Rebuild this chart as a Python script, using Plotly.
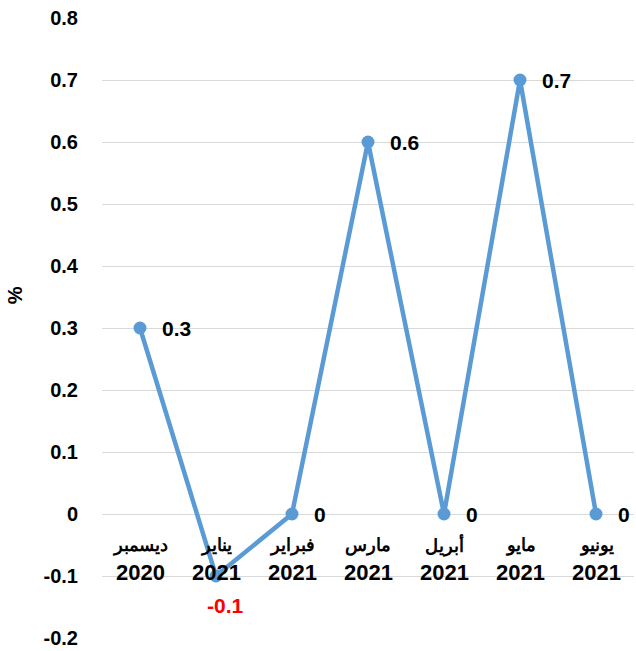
import plotly.graph_objects as go

months = ["ديسمبر", "يناير", "فبراير", "مارس", "أبريل", "مايو", "يونيو"]
years = ["2020", "2021", "2021", "2021", "2021", "2021", "2021"]
values = [0.3, -0.1, 0, 0.6, 0, 0.7, 0]
value_labels = ["0.3", "-0.1", "0", "0.6", "0", "0.7", "0"]
y_ticks = [-0.2, -0.1, 0, 0.1, 0.2, 0.3, 0.4, 0.5, 0.6, 0.7, 0.8]
y_ticktext = ["-0.2", "-0.1", "0", "0.1", "0.2", "0.3", "0.4", "0.5", "0.6", "0.7", "0.8"]

FONT = "Liberation Sans, Arial, sans-serif"
xs = list(range(len(months)))

fig = go.Figure()
fig.add_trace(go.Scatter(
    x=xs, y=values, mode="lines+markers",
    line=dict(color="#5B9BD5", width=4.5),
    marker=dict(color="#5B9BD5", size=13),
    hoverinfo="skip", showlegend=False,
))

annotations = []
for i, (v, t) in enumerate(zip(values, value_labels)):
    if v < 0:
        annotations.append(dict(x=i, y=v, xref="x", yref="y", text="<b>%s</b>" % t,
                                showarrow=False, xanchor="center", yanchor="middle",
                                xshift=9, yshift=-29,
                                font=dict(family=FONT, size=21, color="#FF0000", weight="bold")))
    else:
        annotations.append(dict(x=i, y=v, xref="x", yref="y", text="<b>%s</b>" % t,
                                showarrow=False, xanchor="left", yanchor="middle",
                                xshift=20, yshift=0,
                                font=dict(family=FONT, size=21, color="#000000", weight="bold")))

for i, (m, yr) in enumerate(zip(months, years)):
    annotations.append(dict(x=i, y=0, xref="x", yref="y", text="<b>%s</b>" % m,
                            showarrow=False, xanchor="center", yanchor="middle",
                            yshift=-31,
                            font=dict(family=FONT, size=18, color="#000000", weight="bold")))
    annotations.append(dict(x=i, y=0, xref="x", yref="y", text="<b>%s</b>" % yr,
                            showarrow=False, xanchor="center", yanchor="middle",
                            yshift=-58,
                            font=dict(family=FONT, size=22, color="#000000", weight="bold")))

annotations.append(dict(x=0, y=0.353, xref="paper", yref="y", text="<b>%</b>",
                        showarrow=False, textangle=-90, xanchor="center", yanchor="middle",
                        xshift=-87,
                        font=dict(family=FONT, size=20, color="#000000", weight="bold")))

fig.update_layout(
    width=636, height=651,
    margin=dict(l=102, r=2, t=18, b=13),
    paper_bgcolor="white", plot_bgcolor="white",
    annotations=annotations,
    xaxis=dict(range=[-0.5, 6.5], showticklabels=False, showgrid=False,
               zeroline=False, showline=False, fixedrange=True),
    yaxis=dict(range=[-0.2, 0.8], tickvals=y_ticks, ticktext=y_ticktext,
               showgrid=True, gridcolor="#D9D9D9", gridwidth=1,
               zeroline=True, zerolinecolor="#D9D9D9", zerolinewidth=1,
               showline=False, ticks="", ticklabelstandoff=23,
               tickfont=dict(family=FONT, size=20, color="#000000", weight="bold"),
               fixedrange=True),
)

fig.write_html("out.html", config={"displayModeBar": False},
               post_script="document.body.style.margin='0';document.body.style.overflow='hidden';")
